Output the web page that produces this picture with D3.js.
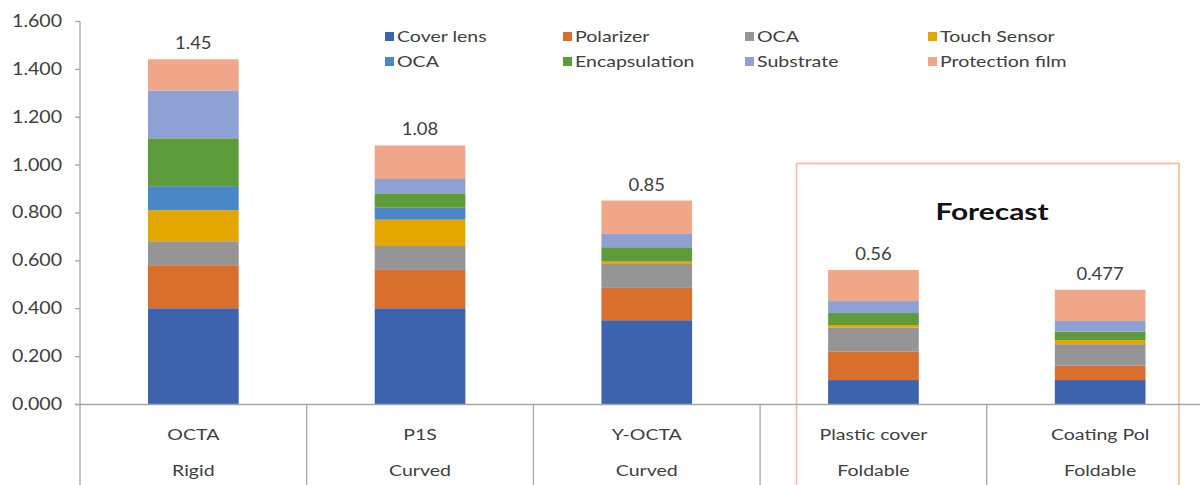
<!DOCTYPE html>
<html><head><meta charset="utf-8">
<script src="https://cdn.jsdelivr.net/npm/d3@7"></script>
<style>
html,body{margin:0;padding:0;background:#fff;}
svg text{font-family:Lato,"Open Sans",sans-serif;}
</style></head>
<body><svg id="chart" width="1200" height="485"></svg>
<script>
// ---- data ----
const categories = ["OCTA", "P1S", "Y-OCTA", "Plastic cover", "Coating Pol"];
const subCategories = ["Rigid", "Curved", "Curved", "Foldable", "Foldable"];
const seriesNames = ["Cover lens", "Polarizer", "OCA", "Touch Sensor", "OCA ", "Encapsulation", "Substrate", "Protection film"];
const coverLens      = [0.40, 0.40, 0.35, 0.10, 0.100];
const polarizer      = [0.18, 0.16, 0.135, 0.12, 0.060];
const oca1           = [0.10, 0.10, 0.10, 0.10, 0.090];
const touchSensor    = [0.13, 0.11, 0.01, 0.01, 0.017];
const oca2           = [0.10, 0.05, 0.00, 0.00, 0.000];
const encapsulation  = [0.20, 0.06, 0.06, 0.05, 0.035];
const substrate      = [0.20, 0.06, 0.055, 0.05, 0.045];
const protectionFilm = [0.13, 0.14, 0.14, 0.13, 0.130];
const totalLabels = ["1.45", "1.08", "0.85", "0.56", "0.477"];
const yTicks = [0, 0.2, 0.4, 0.6, 0.8, 1.0, 1.2, 1.4, 1.6];
const colors = ["#3d63ae", "#d86f2c", "#959595", "#e3a700", "#4a87c6", "#5e9c3b", "#8da1d5", "#f0a689"];

const seriesValues = [coverLens, polarizer, oca1, touchSensor, oca2, encapsulation, substrate, protectionFilm];

(function () {
const rows = categories.map((c, i) => {
  const r = {cat: c};
  seriesNames.forEach((s, j) => r[s] = seriesValues[j][i]);
  return r;
});
const stack = d3.stack().keys(seriesNames)(rows);

const svg = d3.select("#chart");
const mLeft = 80, mRight = 80 + 226.7 * 5, mTop = 21, mBottom = 404;
const SX = 1.22;

const x = d3.scaleBand().domain(categories).range([mLeft, mRight]).paddingInner(0).paddingOuter(0);
const y = d3.scaleLinear().domain([0, 1.6]).range([mBottom, mTop]);
const barW = x.bandwidth() * 0.4;

// helper: horizontally stretched text
function stretch(sel, sx, xf) {
  sel.attr("transform", `scale(${sx},1)`).attr("x", function (d, i) { return xf(d, i) / sx; });
}

// forecast box
svg.append("rect")
  .attr("x", 796.5).attr("y", 163.5).attr("width", 382.5).attr("height", 400)
  .attr("fill", "none").attr("stroke", "#f6bb9c").attr("stroke-width", 1.6);
svg.append("text").attr("y", 220).attr("text-anchor", "middle")
  .attr("font-size", 23).attr("font-weight", 700).attr("fill", "#111").text("Forecast")
  .call(stretch, 1.3, () => 992);

// bars
svg.append("g").selectAll("g").data(stack).join("g")
  .attr("fill", (d, i) => colors[i])
  .selectAll("rect").data(d => d).join("rect")
  .attr("x", d => x(d.data.cat) + (x.bandwidth() - barW) / 2)
  .attr("width", barW)
  .attr("y", d => y(d[1]))
  .attr("height", d => Math.max(0, y(d[0]) - y(d[1])));

// totals
const totals = rows.map(r => d3.sum(seriesNames, s => r[s]));
svg.append("g").selectAll("text").data(categories).join("text")
  .attr("y", (d, i) => y(totals[i]) - 10)
  .attr("text-anchor", "middle").attr("font-size", 16.5).attr("fill", "#404040")
  .text((d, i) => totalLabels[i])
  .call(stretch, 1.12, d => x(d) + x.bandwidth() / 2);

// y axis
const yAxis = d3.axisLeft(y).tickValues(yTicks).tickFormat(d3.format(".3f")).tickSize(5);
const ga = svg.append("g").attr("transform", `translate(${mLeft},0)`).call(yAxis);
ga.select(".domain").remove();
ga.selectAll(".tick line").attr("stroke", "#a6a6a6").attr("stroke-width", 1.3);
ga.selectAll(".tick text").attr("font-size", 17).attr("fill", "#404040")
  .attr("font-family", "Lato, sans-serif")
  .call(stretch, 1.15, () => -18);
svg.append("line").attr("x1", mLeft).attr("x2", mLeft).attr("y1", mTop).attr("y2", 485)
  .attr("stroke", "#a6a6a6").attr("stroke-width", 1.3);

// x axis baseline and dividers
svg.append("line").attr("x1", mLeft - 5).attr("x2", 1200).attr("y1", mBottom + 0.5).attr("y2", mBottom + 0.5)
  .attr("stroke", "#a6a6a6").attr("stroke-width", 1.6);
svg.append("g").selectAll("line").data(categories.slice(1)).join("line")
  .attr("x1", d => x(d)).attr("x2", d => x(d)).attr("y1", mBottom).attr("y2", 485)
  .attr("stroke", "#a6a6a6").attr("stroke-width", 1.3);

const xl = svg.append("g");
xl.selectAll("text.c").data(categories).join("text").attr("class", "c")
  .attr("y", 440)
  .attr("text-anchor", "middle").attr("font-size", 16).attr("fill", "#404040").text(d => d)
  .call(stretch, SX, d => x(d) + x.bandwidth() / 2);
xl.selectAll("text.s").data(categories).join("text").attr("class", "s")
  .attr("y", 476)
  .attr("text-anchor", "middle").attr("font-size", 16).attr("fill", "#404040")
  .text((d, i) => subCategories[i])
  .call(stretch, SX, d => x(d) + x.bandwidth() / 2);

// legend
const legX = [385, 563, 745, 928];
const legY = [32, 57];
const leg = svg.append("g").selectAll("g").data(seriesNames).join("g")
  .attr("transform", (d, i) => `translate(${legX[i % 4]},${legY[Math.floor(i / 4)]})`);
leg.append("rect").attr("width", 9).attr("height", 9).attr("fill", (d, i) => colors[i]);
leg.append("text").attr("y", 9.5).attr("font-size", 15.5).attr("fill", "#404040")
  .text(d => d.trim())
  .call(stretch, 1.26, () => 12);
})();
</script>
</body></html>
